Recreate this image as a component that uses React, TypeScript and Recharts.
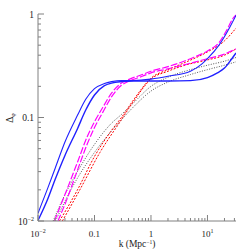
import React from 'react';
import { LineChart, Line, XAxis, YAxis } from 'recharts';

// k in Mpc^-1, Delta_phi values
const kBlueA = [0.01, 0.015, 0.02, 0.03, 0.05, 0.07, 0.1, 0.15, 0.2, 0.3, 0.5, 1, 2, 5, 8, 10, 16, 25, 32];
const dBlueA = [0.0119, 0.021, 0.032, 0.058, 0.105, 0.15, 0.19, 0.213, 0.222, 0.228, 0.228, 0.235, 0.25, 0.28, 0.33, 0.37, 0.5, 0.75, 0.97];
const kBlueB = [0.01, 0.015, 0.02, 0.03, 0.05, 0.07, 0.1, 0.15, 0.2, 0.3, 0.5, 1, 2, 5, 10, 15, 20, 28, 32];
const dBlueB = [0.0101, 0.0165, 0.025, 0.043, 0.078, 0.118, 0.165, 0.203, 0.215, 0.222, 0.225, 0.225, 0.225, 0.227, 0.243, 0.27, 0.3, 0.38, 0.42];

const kMagA = [0.0195, 0.03, 0.05, 0.075, 0.1, 0.14, 0.2, 0.3, 0.42, 0.7, 1, 2, 5, 10, 16, 22, 28, 32];
const dMagA = [0.01, 0.018, 0.037, 0.066, 0.091, 0.125, 0.172, 0.215, 0.235, 0.26, 0.28, 0.31, 0.37, 0.44, 0.53, 0.7, 0.9, 0.98];
const kMagB = [0.0225, 0.03, 0.05, 0.075, 0.1, 0.14, 0.2, 0.3, 0.42, 0.7, 1, 2, 5, 10, 20, 32];
const dMagB = [0.01, 0.0145, 0.031, 0.056, 0.08, 0.112, 0.158, 0.205, 0.226, 0.25, 0.27, 0.295, 0.335, 0.37, 0.41, 0.46];

const kRedA = [0.024, 0.05, 0.1, 0.2, 0.3, 0.5, 1, 2, 4, 10, 20, 32];
const dRedA = [0.01, 0.02, 0.042, 0.075, 0.1, 0.15, 0.24, 0.29, 0.34, 0.43, 0.55, 0.73];
const kRedB = [0.027, 0.055, 0.125, 0.28, 0.5, 1, 2, 4, 10, 20, 32];
const dRedB = [0.01, 0.02, 0.046, 0.09, 0.145, 0.235, 0.28, 0.32, 0.36, 0.4, 0.46];

const kDotA = [0.0185, 0.03, 0.05, 0.1, 0.2, 0.3, 0.5, 1, 2, 5, 10, 20, 32];
const dDotA = [0.01, 0.018, 0.03, 0.055, 0.088, 0.107, 0.14, 0.2, 0.245, 0.29, 0.32, 0.35, 0.38];
const kDotB = [0.0205, 0.03, 0.05, 0.1, 0.2, 0.3, 0.5, 1, 2, 5, 10, 20, 32];
const dDotB = [0.01, 0.0155, 0.026, 0.046, 0.074, 0.095, 0.128, 0.18, 0.22, 0.26, 0.29, 0.32, 0.345];

const xTicks = [0.01, 0.02, 0.03, 0.04, 0.05, 0.06, 0.07, 0.08, 0.09, 0.1, 0.2, 0.3, 0.4, 0.5, 0.6, 0.7, 0.8, 0.9, 1, 2, 3, 4, 5, 6, 7, 8, 9, 10, 20, 30];
const yTicks = [0.01, 0.02, 0.03, 0.04, 0.05, 0.06, 0.07, 0.08, 0.09, 0.1, 0.2, 0.3, 0.4, 0.5, 0.6, 0.7, 0.8, 0.9, 1];
const majors = [0.01, 0.1, 1, 10];

const FRAME = '#808080';
const FONT = '"Liberation Serif", "DejaVu Serif", serif';

const pts = (ks: number[], ds: number[]) => ks.map((k, i) => ({ k, d: ds[i] }));

function Label({ v }: { v: number }) {
  if (v === 0.01) return <>10<tspan dy={-4} fontSize={6}>−2</tspan></>;
  if (v === 10) return <>10<tspan dy={-4} fontSize={6}>1</tspan></>;
  return <>{String(v)}</>;
}

const BottomTick = (p: any) => {
  const v = p.payload.value;
  const major = majors.includes(v);
  return (
    <g>
      <line x1={p.x} y1={p.y} x2={p.x} y2={p.y - (major ? 6 : 3)} stroke={FRAME} />
      {major && (
        <text x={p.x} y={p.y + 16} textAnchor="middle" fontSize={9} fontFamily={FONT} fill="#222">
          <Label v={v} />
        </text>
      )}
    </g>
  );
};

const TopTick = (p: any) => {
  const major = majors.includes(p.payload.value);
  return <line x1={p.x} y1={p.y} x2={p.x} y2={p.y + (major ? 6 : 3)} stroke={FRAME} />;
};

const LeftTick = (p: any) => {
  const v = p.payload.value;
  const major = majors.includes(v);
  return (
    <g>
      <line x1={p.x} y1={p.y} x2={p.x + (major ? 6 : 3)} y2={p.y} stroke={FRAME} />
      {major && (
        <text x={p.x - 4} y={p.y + 3.5} textAnchor="end" fontSize={9.5} fontFamily={FONT} fill="#222">
          <Label v={v} />
        </text>
      )}
    </g>
  );
};

const RightTick = (p: any) => {
  const major = majors.includes(p.payload.value);
  return <line x1={p.x} y1={p.y} x2={p.x - (major ? 6 : 3)} y2={p.y} stroke={FRAME} />;
};

export default function App() {
  return (
    <div style={{ position: 'absolute', left: 0, top: 0, width: 249, height: 249, background: '#fff' }}>
      <LineChart width={249} height={249} margin={{ top: 14, right: 13, left: 0, bottom: 0 }}>
        <XAxis
          dataKey="k" type="number" scale="log" domain={[0.01, 32]} allowDataOverflow
          ticks={xTicks} interval={0} tickSize={0} tickMargin={0} tickLine={false}
          height={28} stroke={FRAME} tick={BottomTick}
        />
        <XAxis
          xAxisId="top" orientation="top" dataKey="k" type="number" scale="log" domain={[0.01, 32]} allowDataOverflow
          ticks={xTicks} interval={0} tickSize={0} tickMargin={0} tickLine={false}
          height={0} stroke={FRAME} tick={TopTick}
        />
        <YAxis
          type="number" scale="log" domain={[0.01, 1]} allowDataOverflow
          ticks={yTicks} interval={0} tickSize={0} tickMargin={0} tickLine={false}
          width={38} stroke={FRAME} tick={LeftTick}
        />
        <YAxis
          yAxisId="right" orientation="right" type="number" scale="log" domain={[0.01, 1]} allowDataOverflow
          ticks={yTicks} interval={0} tickSize={0} tickMargin={0} tickLine={false}
          width={0} stroke={FRAME} tick={RightTick}
        />
        <Line data={pts(kDotA, dDotA)} dataKey="d" type="monotone" stroke="#444" strokeWidth={0.9} strokeDasharray="1 1.5" dot={false} isAnimationActive={false} />
        <Line data={pts(kDotB, dDotB)} dataKey="d" type="monotone" stroke="#444" strokeWidth={0.9} strokeDasharray="1 1.5" dot={false} isAnimationActive={false} />
        <Line data={pts(kRedA, dRedA)} dataKey="d" type="monotone" stroke="#ff0000" strokeWidth={1} strokeDasharray="2 1.5" dot={false} isAnimationActive={false} />
        <Line data={pts(kRedB, dRedB)} dataKey="d" type="monotone" stroke="#ff0000" strokeWidth={1} strokeDasharray="2 1.5" dot={false} isAnimationActive={false} />
        <Line data={pts(kMagA, dMagA)} dataKey="d" type="monotone" stroke="#ff00ff" strokeWidth={1.2} strokeDasharray="7 2" dot={false} isAnimationActive={false} />
        <Line data={pts(kMagB, dMagB)} dataKey="d" type="monotone" stroke="#ff00ff" strokeWidth={1.2} strokeDasharray="7 2" dot={false} isAnimationActive={false} />
        <Line data={pts(kBlueA, dBlueA)} dataKey="d" type="monotone" stroke="#2020ff" strokeWidth={1.1} dot={false} isAnimationActive={false} />
        <Line data={pts(kBlueB, dBlueB)} dataKey="d" type="monotone" stroke="#2020ff" strokeWidth={1.4} dot={false} isAnimationActive={false} />
      </LineChart>
      <svg width={249} height={249} style={{ position: 'absolute', left: 0, top: 0, pointerEvents: 'none' }}>
        <text x={137} y={247} textAnchor="middle" fontSize={9.5} fontFamily={FONT} fill="#222">
          k (Mpc<tspan dy={-3} fontSize={5.5}>−1</tspan><tspan dy={3}>)</tspan>
        </text>
        <text transform="translate(13,118) rotate(-90)" textAnchor="middle" fontSize={9.5} fontFamily={FONT} fill="#222">
          Δ<tspan dy={2} fontSize={6}>φ</tspan>
        </text>
      </svg>
    </div>
  );
}
